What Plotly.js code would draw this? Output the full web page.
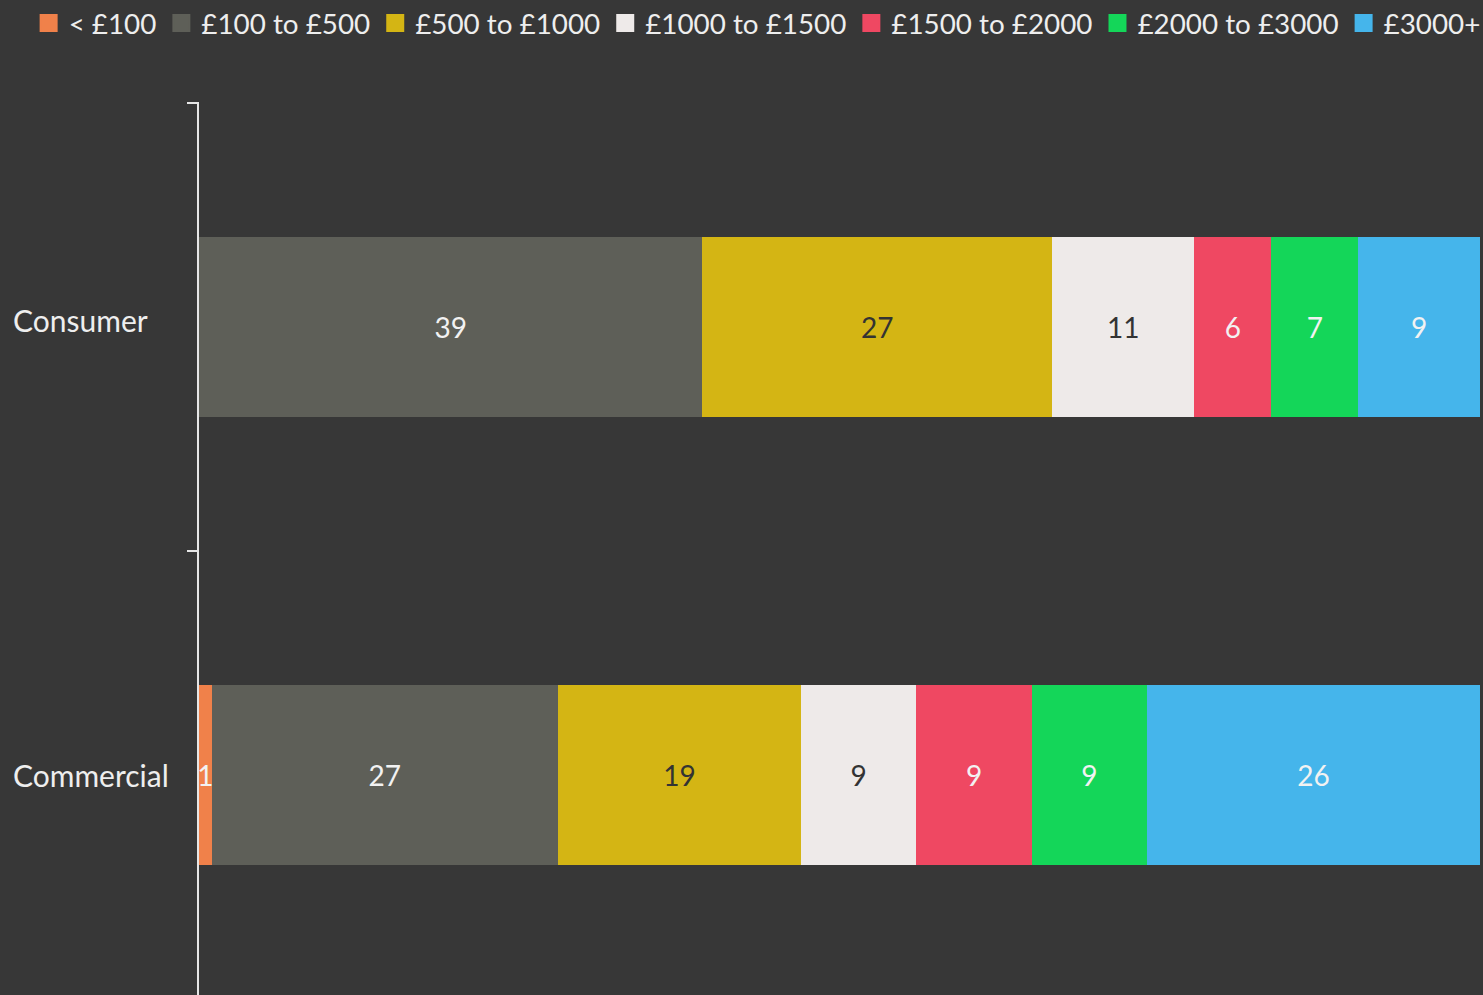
<!DOCTYPE html>
<html><head><meta charset="utf-8">
<script src="https://cdn.plot.ly/plotly-3.0.1.min.js"></script>
<style>html,body{margin:0;padding:0;background:#373737;}</style>
</head><body>
<div id="chart" style="width:1483px;height:995px;"></div>
<script>
// ---- data ----
const categories = ["Consumer", "Commercial"];
const seriesNames = ["< £100", "£100 to £500", "£500 to £1000", "£1000 to £1500", "£1500 to £2000", "£2000 to £3000", "£3000+"];
const under100      = [0, 1];
const from100to500  = [39.3, 27];
const from500to1000 = [27.3, 19];
const from1000to1500 = [11.1, 9];
const from1500to2000 = [6.0, 9];
const from2000to3000 = [6.8, 9];
const over3000      = [9.5, 26];
// printed data labels
const under100Labels      = ["", "1"];
const from100to500Labels  = ["39", "27"];
const from500to1000Labels = ["27", "19"];
const from1000to1500Labels = ["11", "9"];
const from1500to2000Labels = ["6", "9"];
const from2000to3000Labels = ["7", "9"];
const over3000Labels      = ["9", "26"];

// ---- styles ----
const FONT = "Lato, 'Open Sans', sans-serif";
const colors = ["#f0814a", "#5e5f58", "#d4b514", "#eeeae9", "#ef4862", "#14d659", "#45b5eb"];
const textColors = ["#f2f2f2", "#f2f2f2", "#333333", "#333333", "#f2f2f2", "#f2f2f2", "#f2f2f2"];
const seriesValues = [under100, from100to500, from500to1000, from1000to1500, from1500to2000, from2000to3000, over3000];
const seriesLabels = [under100Labels, from100to500Labels, from500to1000Labels, from1000to1500Labels, from1500to2000Labels, from2000to3000Labels, over3000Labels];

const barTraces = seriesNames.map((name, i) => ({
  type: "bar",
  orientation: "h",
  name: name,
  legendgroup: name,
  showlegend: false,
  y: categories,
  x: seriesValues[i],
  text: seriesLabels[i],
  textposition: "inside",
  insidetextanchor: "middle",
  textangle: 0,
  constraintext: "none",
  cliponaxis: false,
  textfont: {family: FONT, size: 28, color: textColors[i]},
  marker: {color: colors[i], line: {width: 0}},
  hoverinfo: "none"
}));

// legend-only entries (bigger square swatches)
const legendTraces = seriesNames.map((name, i) => ({
  type: "scatter",
  mode: "markers",
  name: name,
  legendgroup: name,
  showlegend: true,
  x: [null], y: [null],
  marker: {symbol: "square", size: 16, color: colors[i], line: {color: colors[i], width: 2}},
  hoverinfo: "none"
}));

const labelShift = {"Consumer": 7, "Commercial": 0};
const annotations = categories.map(c => ({
  xref: "paper", x: -0.1468, xanchor: "left",
  yref: "y", y: c, yanchor: "middle", yshift: labelShift[c],
  text: c, showarrow: false,
  font: {family: FONT, size: 30, color: "#eeeeee"}
}));

const layout = {
  width: 1483, height: 995,
  paper_bgcolor: "#373737", plot_bgcolor: "#373737",
  barmode: "stack", bargap: 0.6,
  margin: {l: 199, r: 3, t: 102, b: 0, pad: 0, autoexpand: false},
  font: {family: FONT, color: "#eeeeee"},
  xaxis: {range: [0, 100], visible: false, fixedrange: true},
  yaxis: {
    type: "category", categoryorder: "array", categoryarray: categories,
    range: [1.491, -0.502],
    showline: true, linecolor: "#e6e6e6", linewidth: 2,
    ticks: "outside", ticklen: 10, tickwidth: 2, tickcolor: "#e6e6e6",
    tickson: "boundaries",
    showticklabels: false, showgrid: false, zeroline: false, fixedrange: true
  },
  showlegend: true,
  legend: {
    orientation: "h", x: -0.1330, xanchor: "left", y: 1.0879, yanchor: "middle",
    font: {family: FONT, size: 27.8, color: "#eeeeee"},
    bgcolor: "rgba(0,0,0,0)", traceorder: "normal"
  },
  annotations: annotations
};

Plotly.newPlot("chart", barTraces.concat(legendTraces), layout, {displayModeBar: false, staticPlot: true});
</script>
</body></html>
